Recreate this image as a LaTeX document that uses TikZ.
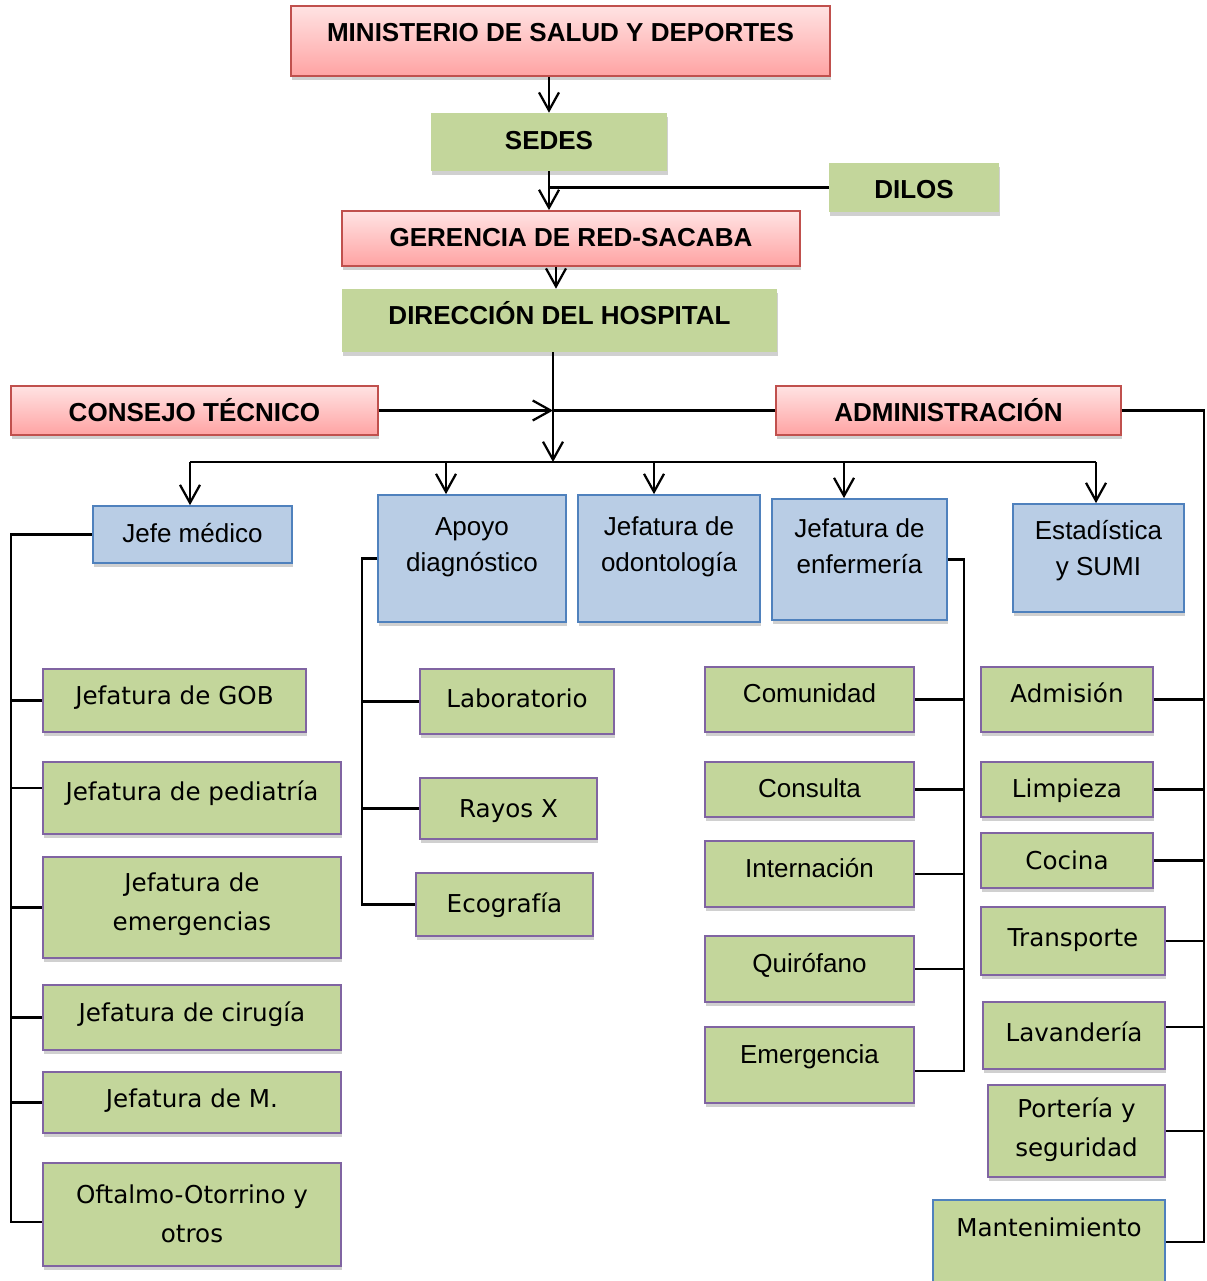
\documentclass[tikz,border=0pt]{standalone}
\usepackage{fontspec}
\setmainfont{Liberation Sans}
\newfontfamily\arialf{Liberation Sans}
\newfontfamily\verdf{DejaVu Sans}
\usetikzlibrary{arrows.meta,shadows}
\definecolor{rbord}{HTML}{C0504D}
\definecolor{rtop}{HTML}{FFE3E3}
\definecolor{rbot}{HTML}{FFA3A3}
\definecolor{gfill}{HTML}{C3D69B}
\definecolor{bfill}{HTML}{B9CDE5}
\definecolor{bbord}{HTML}{4F81BD}
\definecolor{pbord}{HTML}{8064A2}
\newcommand\bx[9]{%
  \node[#2, minimum width={(#5-#3)*0.025cm}, minimum height={(#6-#4)*0.025cm}] (#1) at ({(#3+#5)/2},{(#4+#6)/2}) {};
  \node[#7] (#1t) at ({(#3+#5)/2},#8) {#9};}
\tikzset{
  shd/.style={drop shadow={shadow xshift=1pt, shadow yshift=-2.5pt, opacity=0.3, fill=black!60}},
  redbox/.style={shd, draw=rbord, line width=1.3pt, top color=rtop, bottom color=rbot, inner sep=0pt},
  greenbox/.style={shd, fill=gfill, inner sep=0pt},
  bluebox/.style={shd, draw=bbord, fill=bfill, line width=1.2pt, inner sep=0pt},
  gpbox/.style={shd, draw=pbord, fill=gfill, line width=1.2pt, inner sep=0pt},
  gbbox/.style={shd, draw=bbord, fill=gfill, line width=1.2pt, inner sep=0pt},
  tb/.style={font=\arialf\bfseries\fontsize{18.5}{25.6}\selectfont, anchor=base, yshift=-0.235cm, inner sep=0pt},
  tr/.style={font=\arialf\fontsize{18.5}{25.6}\selectfont, anchor=base, yshift=-0.235cm, inner sep=0pt},
  trm/.style={font=\arialf\fontsize{18.5}{25.6}\selectfont, align=center, inner sep=0pt},
  tv/.style={font=\verdf\fontsize{17.5}{27.7}\selectfont, anchor=base, yshift=-0.228cm, inner sep=0pt},
  tvm/.style={font=\verdf\fontsize{17.5}{27.7}\selectfont, align=center, inner sep=0pt},
  ln/.style={line width=1.6pt, black},
  arr/.style={ln, -{Straight Barb[length=0.45cm,width=0.5cm,line width=1.6pt]}},
}
\begin{document}
\begin{tikzpicture}[x=0.025cm,y=-0.025cm]
\useasboundingbox (0,0) rectangle (1207,1281);
\fill[white] (0,0) rectangle (1207,1281);
% top chain
\bx{min}{redbox}{291}{6}{830}{76}{tb}{32}{MINISTERIO DE SALUD Y DEPORTES}
\bx{sedes}{greenbox}{431}{113}{667}{171}{tb}{140}{SEDES}
\bx{dilos}{greenbox}{829}{163}{999}{212}{tb}{189}{DILOS}
\bx{ger}{redbox}{342}{211}{800}{266}{tb}{237}{GERENCIA DE RED-SACABA}
\bx{dir}{greenbox}{342}{289}{777}{352}{tb}{315}{DIRECCIÓN DEL HOSPITAL}
\bx{cons}{redbox}{11}{386}{378}{435}{tb}{412}{CONSEJO TÉCNICO}
\bx{adm}{redbox}{776}{386}{1121}{435}{tb}{412}{ADMINISTRACIÓN}
% blue level
\bx{jefe}{bluebox}{93}{506}{292}{563}{tr}{533}{Jefe médico}
\bx{apo}{bluebox}{378}{495}{566}{622}{trm}{547}{Apoyo\\diagnóstico}
\bx{odo}{bluebox}{578}{495}{760}{622}{trm}{547}{Jefatura de\\odontología}
\bx{enf}{bluebox}{772}{499}{947}{620}{trm}{546}{Jefatura de\\enfermería}
\bx{est}{bluebox}{1013}{504}{1184}{612}{trm}{551}{Estadística\\y SUMI}
% left column
\bx{gob}{gpbox}{43}{669}{306}{732}{tv}{695}{Jefatura de GOB}
\bx{ped}{gpbox}{43}{762}{341}{834}{tv}{791}{Jefatura de pediatría}
\bx{emj}{gpbox}{43}{857}{341}{958}{tvm}{904}{Jefatura de\\emergencias}
\bx{cir}{gpbox}{43}{985}{341}{1050}{tv}{1012}{Jefatura de cirugía}
\bx{jm}{gpbox}{43}{1072}{341}{1133}{tv}{1098}{Jefatura de M.}
\bx{oft}{gpbox}{43}{1163}{341}{1266}{tvm}{1214}{Oftalmo-Otorrino y\\otros}
% apoyo column
\bx{lab}{gpbox}{420}{669}{614}{734}{tv}{698}{Laboratorio}
\bx{ray}{gpbox}{420}{778}{597}{839}{tv}{808}{Rayos X}
\bx{eco}{gpbox}{416}{873}{593}{936}{tv}{903}{Ecografía}
% enfermeria column
\bx{com}{gpbox}{705}{667}{914}{732}{tr}{693}{Comunidad}
\bx{con}{gpbox}{705}{762}{914}{817}{tr}{788}{Consulta}
\bx{int}{gpbox}{705}{841}{914}{907}{tr}{868}{Internación}
\bx{qui}{gpbox}{705}{936}{914}{1002}{tr}{963}{Quirófano}
\bx{emg}{gpbox}{705}{1027}{914}{1103}{tr}{1054}{Emergencia}
% admin column
\bx{adn}{gpbox}{981}{667}{1153}{732}{tv}{693}{Admisión}
\bx{lim}{gpbox}{981}{762}{1153}{817}{tv}{788}{Limpieza}
\bx{coc}{gpbox}{981}{833}{1153}{888}{tv}{860}{Cocina}
\bx{tra}{gpbox}{981}{907}{1165}{975}{tv}{937}{Transporte}
\bx{lav}{gpbox}{983}{1002}{1165}{1069}{tv}{1032}{Lavandería}
\bx{por}{gpbox}{988}{1085}{1165}{1177}{tvm}{1130}{Portería y\\seguridad}
\bx{man}{gbbox}{933}{1200}{1165}{1284}{tv}{1227}{Mantenimiento}
% coordinates
\coordinate (cx1) at (556,0);
\coordinate (hub) at (553,462);
\coordinate (a1) at (190,462);
\coordinate (a2) at (446,462);
\coordinate (a3) at (654,462);
\coordinate (a4) at (844,462);
\coordinate (a5) at (1096,462);
\coordinate (lt) at (11,0);
\coordinate (mt) at (362,0);
\coordinate (rt) at (964,0);
\coordinate (ft) at (1204,0);
% connectors
\draw[arr] (sedes.north |- min.south) -- (sedes.north);
\draw[arr] (sedes.south) -- (sedes.south |- ger.north);
\draw[ln] (dilos.west) -- (dilos.west -| sedes.south);
\draw[arr] (ger.south -| cx1) -- (dir.north -| cx1);
\draw[arr] (dir.south -| hub) -- (hub);
\draw[arr] (cons.east) -- (cons.east -| hub);
\draw[ln] (adm.west) -- (adm.west -| hub);
\draw[ln] (a1) -- (a5);
\draw[arr] (a1) -- (a1 |- jefe.north);
\draw[arr] (a2) -- (a2 |- apo.north);
\draw[arr] (a3) -- (a3 |- odo.north);
\draw[arr] (a4) -- (a4 |- enf.north);
\draw[arr] (a5) -- (a5 |- est.north);
% left tree
\draw[ln] (jefe.west) -- (jefe.west -| lt) -- ([yshift=-0.19cm]oft.west -| lt) -- ([yshift=-0.19cm]oft.west);
\draw[ln] (gob.west -| lt) -- (gob.west);
\draw[ln] ([yshift=0.25cm]ped.west -| lt) -- ([yshift=0.25cm]ped.west);
\draw[ln] (emj.west -| lt) -- (emj.west);
\draw[ln] (cir.west -| lt) -- (cir.west);
\draw[ln] (jm.west -| lt) -- (jm.west);
% apoyo tree
\draw[ln] (apo.west) -- (apo.west -| mt) -- (eco.west -| mt) -- (eco.west);
\draw[ln] (lab.west -| mt) -- (lab.west);
\draw[ln] (ray.west -| mt) -- (ray.west);
% enfermeria tree
\draw[ln] (enf.east) -- (enf.east -| rt) -- ([yshift=-0.15cm]emg.east -| rt) -- ([yshift=-0.15cm]emg.east);
\draw[ln] (com.east) -- (com.east -| rt);
\draw[ln] (con.east) -- (con.east -| rt);
\draw[ln] (int.east) -- (int.east -| rt);
\draw[ln] (qui.east) -- (qui.east -| rt);
% admin tree
\draw[ln] (adm.east) -- (adm.east -| ft) -- (man.east -| ft) -- (man.east);
\draw[ln] (adn.east) -- (adn.east -| ft);
\draw[ln] (lim.east) -- (lim.east -| ft);
\draw[ln] (coc.east) -- (coc.east -| ft);
\draw[ln] (tra.east) -- (tra.east -| ft);
\draw[ln] ([yshift=0.21cm]lav.east) -- ([yshift=0.21cm]lav.east -| ft);
\draw[ln] (por.east) -- (por.east -| ft);
\end{tikzpicture}
\end{document}
